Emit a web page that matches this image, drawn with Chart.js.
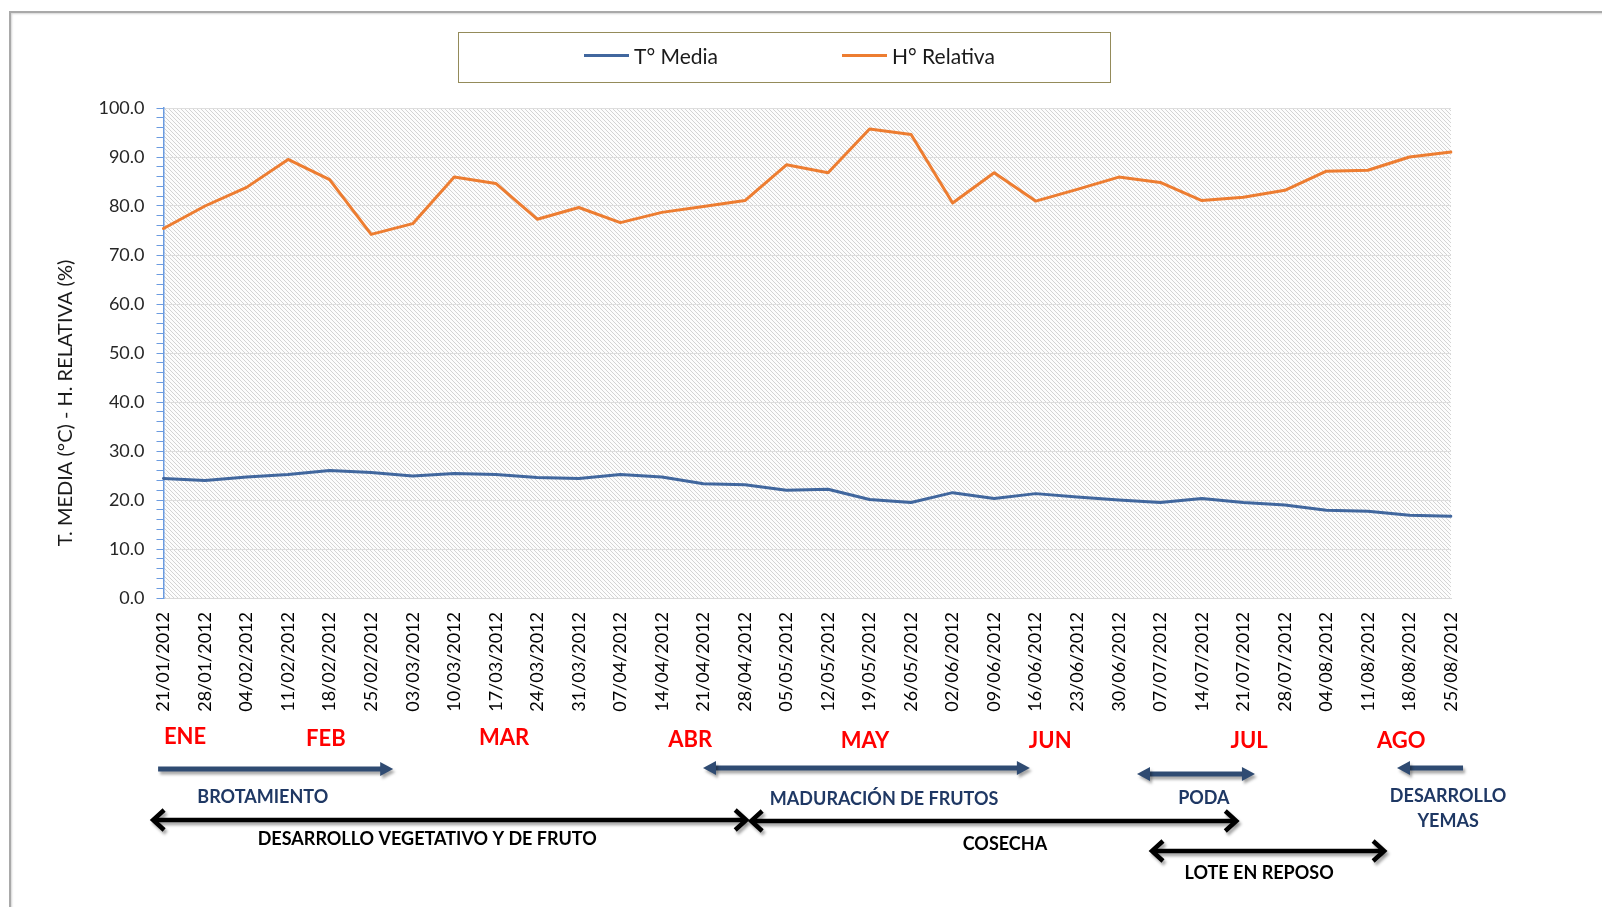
<!DOCTYPE html>
<html><head><meta charset="utf-8">
<script src="https://cdn.jsdelivr.net/npm/chart.js@4.4.1/dist/chart.umd.min.js"></script>
<style>
html,body{margin:0;padding:0;background:#fff;width:1602px;height:907px;overflow:hidden;font-family:Lato,"Noto Sans",sans-serif}
#frame{position:absolute;left:9px;top:11px;width:1700px;height:1000px;border-top:2px solid #a9a9a9;border-left:2px solid #a9a9a9;box-shadow:inset 1px 1px 2px #d6d6d6}
#wrap{position:absolute;left:0;top:0;width:1602px;height:907px}
#legend{position:absolute;left:458px;top:32px;width:651px;height:49px;border:1px solid #948b5a;background:#fff}
.li{position:absolute;top:-2px;height:49px;display:flex;align-items:center;font-size:21px;color:#1a1a1a;white-space:nowrap}
.sw{display:inline-block;width:45px;height:3px;margin-right:5px}
</style></head>
<body>
<div id="frame"></div>
<div id="wrap"><canvas id="c" width="1602" height="907"></canvas></div>
<div id="legend"></div>
<script>
// ---- data ----
const categories = ['21/01/2012','28/01/2012','04/02/2012','11/02/2012','18/02/2012','25/02/2012','03/03/2012','10/03/2012','17/03/2012','24/03/2012','31/03/2012','07/04/2012','14/04/2012','21/04/2012','28/04/2012','05/05/2012','12/05/2012','19/05/2012','26/05/2012','02/06/2012','09/06/2012','16/06/2012','23/06/2012','30/06/2012','07/07/2012','14/07/2012','21/07/2012','28/07/2012','04/08/2012','11/08/2012','18/08/2012','25/08/2012'];
const tempMedia = [24.4,24.0,24.7,25.2,26.0,25.6,24.9,25.4,25.2,24.6,24.4,25.2,24.7,23.3,23.1,22.0,22.2,20.1,19.5,21.5,20.3,21.3,20.6,20.0,19.5,20.3,19.5,19.0,17.9,17.7,16.9,16.7];
const humRelativa = [75.4,80.0,83.8,89.5,85.4,74.2,76.4,85.9,84.6,77.3,79.7,76.6,78.7,79.9,81.1,88.4,86.8,95.7,94.6,80.6,86.8,81.0,83.4,85.9,84.8,81.1,81.8,83.2,87.1,87.3,90.0,91.0];
const seriesNames = ['T° Media','H° Relativa'];
const yTitle = 'T. MEDIA (°C) - H. RELATIVA (%)';
const yMin = 0, yMax = 100, yLabelStep = 10, yMinorStep = 2;

// annotation layer (category-index units)
const monthLabels = [['ENE',0.52,737],['FEB',3.91,739],['MAR',8.2,738],['ABR',12.68,740],['MAY',16.89,741],['JUN',21.35,741],['JUL',26.14,741],['AGO',29.8,741]];
const blueArrows = [[-0.13,5.53,769,false,true],[12.99,20.86,768,true,true],[23.44,26.28,774,true,true],[29.7,31.29,768,true,false]];
const blueLabels = [['BROTAMIENTO',2.39,797],['MADURACIÓN DE FRUTOS',17.35,799],['PODA',25.05,798],['DESARROLLO',30.93,796],['YEMAS',30.93,821]];
const blackArrows = [[-0.25,14.03,820],[14.15,25.83,821],[23.8,29.39,851]];
const blackLabels = [['DESARROLLO VEGETATIVO Y DE FRUTO',6.35,839],['COSECHA',20.26,844],['LOTE EN REPOSO',26.38,873]];

const colors = ['#41679e','#ed7d31'];

// legend
const lg = document.getElementById('legend');
[[125,0],[383,1]].forEach(([left,i])=>{
  const d=document.createElement('div'); d.className='li'; d.style.left=left+'px';
  d.innerHTML='<span class="sw" style="background:'+colors[i]+'"></span>'+seriesNames[i];
  lg.appendChild(d);
});

// hatch pattern
const pc=document.createElement('canvas'); pc.width=4; pc.height=4;
const p=pc.getContext('2d');
p.fillStyle='#fdfdfd'; p.fillRect(0,0,4,4);
p.strokeStyle='#d4d4d4'; p.lineWidth=1;
p.beginPath(); p.moveTo(-1,-1); p.lineTo(5,5); p.moveTo(-1,3); p.lineTo(1,5); p.moveTo(3,-1); p.lineTo(5,1); p.stroke();

const ctxC=document.getElementById('c').getContext('2d');
const hatch=ctxC.createPattern(pc,'repeat');

const bgPlugin={id:'bg',beforeDraw(chart){
  const {ctx,chartArea:a}=chart; ctx.save(); ctx.fillStyle=hatch; ctx.fillRect(a.left,a.top,a.right-a.left,a.bottom-a.top); ctx.restore();
}};

const annPlugin={id:'ann',afterDraw(chart){
  const ctx=chart.ctx, xs=chart.scales.x;
  const X=v=>xs.getPixelForValue(v);
  ctx.save();
  // y title
  ctx.save();
  ctx.translate(66,403); ctx.rotate(-Math.PI/2);
  ctx.font='20px Lato'; ctx.fillStyle='#1a1a1a'; ctx.textAlign='center'; ctx.textBaseline='middle';
  ctx.fillText(yTitle,0,0);
  ctx.restore();
  // months
  ctx.font='bold 22px Lato'; ctx.fillStyle='#ff0000'; ctx.textAlign='center'; ctx.textBaseline='middle';
  monthLabels.forEach(([t,i,y])=>ctx.fillText(t,X(i),y));
  // arrows with shadow
  ctx.shadowColor='rgba(0,0,0,0.35)'; ctx.shadowBlur=3; ctx.shadowOffsetX=2; ctx.shadowOffsetY=3;
  blueArrows.forEach(([a,b,y,s,e])=>{
    const x1=X(a), x2=X(b), hl=13, hh=7;
    ctx.strokeStyle='#2f4b72'; ctx.fillStyle='#2f4b72'; ctx.lineWidth=5; ctx.lineCap='butt';
    ctx.beginPath(); ctx.moveTo(x1+(s?hl-2:0),y); ctx.lineTo(x2-(e?hl-2:0),y); ctx.stroke();
    if(e){ctx.beginPath(); ctx.moveTo(x2,y); ctx.lineTo(x2-hl,y-hh); ctx.lineTo(x2-hl,y+hh); ctx.closePath(); ctx.fill();}
    if(s){ctx.beginPath(); ctx.moveTo(x1,y); ctx.lineTo(x1+hl,y-hh); ctx.lineTo(x1+hl,y+hh); ctx.closePath(); ctx.fill();}
  });
  blackArrows.forEach(([a,b,y])=>{
    const x1=X(a), x2=X(b), hl=11, hh=10;
    ctx.strokeStyle='#000'; ctx.lineWidth=4.5; ctx.lineJoin='miter'; ctx.lineCap='butt';
    ctx.beginPath(); ctx.moveTo(x1+2,y); ctx.lineTo(x2-2,y); ctx.stroke();
    ctx.beginPath(); ctx.moveTo(x2-hl,y-hh); ctx.lineTo(x2,y); ctx.lineTo(x2-hl,y+hh); ctx.stroke();
    ctx.beginPath(); ctx.moveTo(x1+hl,y-hh); ctx.lineTo(x1,y); ctx.lineTo(x1+hl,y+hh); ctx.stroke();
  });
  ctx.shadowColor='transparent';
  ctx.font='bold 18px Lato';
  ctx.fillStyle='#1f3864';
  blueLabels.forEach(([t,i,y])=>ctx.fillText(t,X(i),y));
  ctx.fillStyle='#000';
  blackLabels.forEach(([t,i,y])=>ctx.fillText(t,X(i),y));
  ctx.restore();
}};

new Chart(ctxC,{
  type:'line',
  data:{labels:categories,datasets:[
    {label:seriesNames[0],data:tempMedia,borderColor:colors[0],backgroundColor:colors[0],borderWidth:3,pointRadius:0,tension:0,borderJoinStyle:'round',borderCapStyle:'round'},
    {label:seriesNames[1],data:humRelativa,borderColor:colors[1],backgroundColor:colors[1],borderWidth:3,pointRadius:0,tension:0,borderJoinStyle:'round',borderCapStyle:'round'}
  ]},
  options:{
    responsive:false, animation:false, devicePixelRatio:1,
    layout:{padding:{left:0,top:108,right:151,bottom:159}},
    plugins:{legend:{display:false},tooltip:{enabled:false}},
    scales:{
      x:{type:'category',offset:false,
        grid:{drawOnChartArea:false,drawTicks:false},
        border:{display:true,color:'#d9d9d9',width:1},
        ticks:{autoSkip:false,maxRotation:90,minRotation:90,padding:14,color:'#000',font:{family:'Lato',size:18}},
        afterFit(s){s.height=150;}
      },
      y:{min:yMin,max:yMax,
        grid:{color:c=>(c.tick&&Math.round(c.tick.value)%yLabelStep===0)?'#dedede':'rgba(0,0,0,0)',lineWidth:1,tickColor:'#6b9be0',tickLength:7,drawTicks:true},
        border:{display:true,color:'#6b9be0',width:1.5},
        ticks:{stepSize:yMinorStep,autoSkip:false,padding:12,color:'#262626',font:{family:'Lato',size:18},
          callback:v=>(Math.round(v)%yLabelStep===0)?Number(v).toFixed(1):''},
        afterFit(s){s.width=163.5;}
      }
    }
  },
  plugins:[bgPlugin,annPlugin]
});
</script>
</body></html>
